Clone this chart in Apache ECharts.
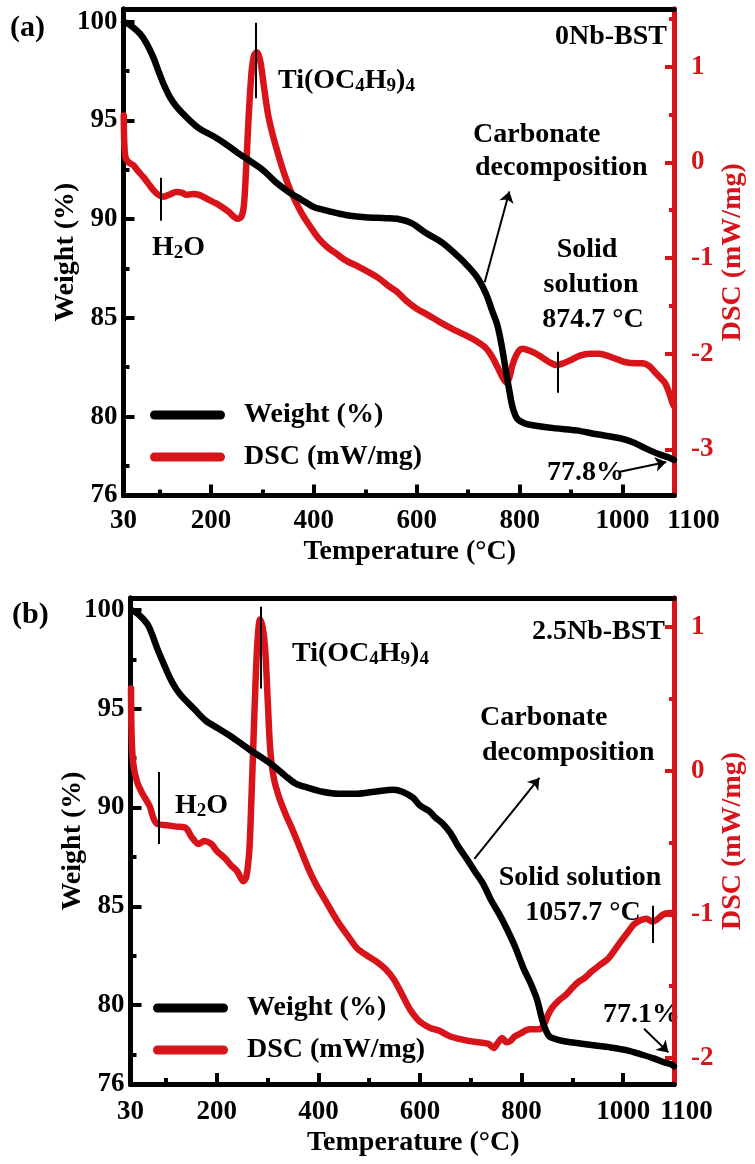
<!DOCTYPE html>
<html><head><meta charset="utf-8">
<script src="https://cdn.jsdelivr.net/npm/echarts@6/dist/echarts.min.js"></script>
<style>html,body{margin:0;padding:0;background:#fff}#c{width:755px;height:1164px}</style>
</head><body><div id="c"></div>
<script>
// ---------- data ----------
const xLabels = [30, 200, 400, 600, 800, 1000, 1100];
const xMajor = [200, 400, 600, 800, 1000];
const xMinor = [100, 300, 500, 700, 900];
const wLabels = [76, 80, 85, 90, 95, 100];
const wMajor = [80, 85, 90, 95, 100];
const wMinor = [77.5, 82.5, 87.5, 92.5, 97.5];
const dscLabelsA = [-3, -2, -1, 0, 1];
const dscMinorA = [-2.5, -1.5, -0.5, 0.5, 1.5];
const dscLabelsB = [-2, -1, 0, 1];
const dscMinorB = [-1.5, -0.5, 0.5];

const seriesNames = ['Weight (%)', 'DSC (mW/mg)'];

// Panel (a) 0Nb-BST : [temperature °C, weight %]
const weightA = [[31,100.0],[45,99.8],[62,99.4],[75,98.9],[88,98.2],[98,97.5],[107,96.9],[120,96.2],[133,95.7],[155,95.1],[177,94.6],[205,94.2],[229,93.8],[250,93.4],[273,93.0],[290,92.7],[305,92.4],[325,91.9],[350,91.4],[375,91.0],[401,90.6],[430,90.4],[464,90.2],[500,90.1],[540,90.05],[566,90.0],[590,89.8],[618,89.3],[650,88.8],[681,88.1],[700,87.6],[719,87.0],[735,86.2],[746,85.4],[757,84.6],[765,83.6],[774,82.2],[780,81.3],[786,80.5],[795,79.9],[810,79.65],[828,79.55],[870,79.4],[910,79.3],[950,79.1],[995,78.9],[1020,78.7],[1044,78.4],[1070,78.1],[1092,77.9],[1100,77.8]];
// Panel (a) : [temperature °C, DSC mW/mg]
const dscA = [[30.5,0.49],[31.5,0.2],[34,0.05],[40,0.0],[49,-0.03],[58,-0.09],[68,-0.15],[78,-0.22],[88,-0.29],[98,-0.34],[107,-0.36],[118,-0.34],[133,-0.31],[145,-0.32],[152,-0.34],[165,-0.33],[177,-0.34],[195,-0.39],[210,-0.43],[222,-0.47],[235,-0.52],[245,-0.57],[252,-0.59],[259,-0.57],[264,-0.45],[268,-0.1],[273,0.45],[279,0.95],[284,1.12],[289,1.15],[294,1.1],[298,0.99],[304,0.75],[311,0.5],[318,0.33],[326,0.17],[340,-0.08],[355,-0.3],[375,-0.52],[394,-0.68],[410,-0.8],[427,-0.89],[445,-0.96],[460,-1.02],[490,-1.1],[523,-1.2],[547,-1.3],[561,-1.35],[580,-1.45],[600,-1.53],[623,-1.6],[645,-1.67],[669,-1.74],[688,-1.79],[710,-1.85],[732,-1.93],[745,-2.02],[757,-2.14],[766,-2.24],[774,-2.3],[780,-2.25],[786,-2.12],[795,-2.0],[805,-1.95],[815,-1.96],[828,-1.99],[841,-2.03],[858,-2.09],[872,-2.12],[885,-2.1],[898,-2.07],[917,-2.02],[937,-2.0],[955,-2.0],[975,-2.03],[990,-2.06],[1006,-2.09],[1025,-2.1],[1039,-2.1],[1052,-2.13],[1064,-2.2],[1075,-2.26],[1083,-2.31],[1090,-2.4],[1096,-2.5],[1100,-2.55]];

// Panel (b) 2.5Nb-BST : [temperature °C, weight %]
const weightB = [[32,100.0],[45,99.8],[63,99.3],[72,98.8],[82,98.1],[95,97.3],[107,96.6],[120,96.0],[132,95.6],[155,95.0],[178,94.4],[203,94.0],[228,93.6],[250,93.2],[266,92.9],[290,92.5],[312,92.1],[335,91.6],[356,91.2],[380,91.0],[408,90.8],[440,90.7],[477,90.7],[510,90.8],[548,90.9],[565,90.8],[586,90.5],[600,90.1],[619,89.8],[630,89.5],[644,89.2],[660,88.7],[676,88.0],[692,87.4],[707,86.8],[725,86.1],[740,85.3],[756,84.6],[772,83.8],[788,82.9],[803,81.9],[816,81.2],[830,80.3],[841,79.2],[848,78.7],[855,78.4],[870,78.25],[887,78.15],[915,78.05],[945,77.95],[975,77.85],[1008,77.7],[1035,77.5],[1060,77.3],[1080,77.1],[1094,77.0],[1100,76.9]];
// Panel (b) : [temperature °C, DSC mW/mg]
const dscB = [[31,0.57],[32,0.27],[35,0.06],[43,-0.08],[55,-0.17],[68,-0.25],[75,-0.33],[82,-0.37],[101,-0.38],[120,-0.39],[139,-0.4],[150,-0.46],[164,-0.51],[175,-0.49],[189,-0.51],[200,-0.56],[216,-0.61],[228,-0.66],[240,-0.7],[252,-0.77],[258,-0.74],[264,-0.55],[268,-0.2],[272,0.2],[276,0.6],[280,0.9],[285,1.05],[290,1.0],[295,0.85],[300,0.5],[305,0.15],[312,-0.05],[322,-0.18],[335,-0.3],[350,-0.42],[365,-0.55],[380,-0.68],[395,-0.79],[413,-0.9],[438,-1.05],[458,-1.15],[477,-1.24],[497,-1.29],[515,-1.33],[532,-1.38],[548,-1.45],[565,-1.56],[580,-1.66],[595,-1.73],[605,-1.76],[620,-1.79],[638,-1.81],[660,-1.85],[695,-1.88],[734,-1.9],[745,-1.93],[752,-1.9],[762,-1.86],[770,-1.89],[778,-1.88],[786,-1.85],[797,-1.83],[816,-1.8],[835,-1.8],[845,-1.76],[852,-1.7],[860,-1.65],[873,-1.6],[887,-1.56],[900,-1.51],[912,-1.47],[925,-1.44],[937,-1.4],[955,-1.35],[970,-1.31],[983,-1.25],[995,-1.19],[1008,-1.13],[1021,-1.07],[1035,-1.04],[1046,-1.03],[1057,-1.05],[1065,-1.04],[1079,-1.0],[1090,-0.99],[1100,-0.99]];

// annotation marks (data coordinates)
const peakTicksA = [[[103,-0.16],[103,-0.61]], [[288,1.46],[288,0.67]], [[874.7,-1.98],[874.7,-2.41]]];
const arrowsA = [[[732,86.8],[780,91.4]], [[995,77.2],[1085,77.7]]];
const peakTicksB = [[[86,-0.01],[86,-0.51]], [[287,1.14],[287,0.57]], [[1057.7,-0.94],[1057.7,-1.2]]];
const arrowsB = [[[707,87.4],[835,91.5]], [[1041,78.8],[1089,77.6]]];

// ---------- styling ----------
const FONT = '"Liberation Serif","Times New Roman",serif';
const RED = '#d8141b';
const BLACK = '#000';
const TICK_FS = 27;
const TEXT_FS = 28;

function baseLabel(color, size) {
  return { fontFamily: FONT, fontWeight: 'bold', fontSize: size, color: color };
}

function xAxesFor(gi, margin, shift, nameGap) {
  const common = { type: 'value', gridIndex: gi, min: 30, max: 1100, splitLine: { show: false },
    axisLine: { onZero: false, lineStyle: { color: BLACK, width: 5 } } };
  return [
    Object.assign({}, common, {
      position: 'bottom',
      axisTick: { inside: true, length: 11, customValues: xMajor, lineStyle: { color: BLACK, width: 4 } },
      axisLabel: Object.assign(baseLabel(BLACK, TICK_FS), {
        margin: margin, customValues: xLabels, hideOverlap: false,
        formatter: v => v === 1100 ? '{r|1100}' : String(v),
        rich: { r: Object.assign(baseLabel(BLACK, TICK_FS), { padding: [0, 0, 0, shift] }) }
      }),
      name: 'Temperature (°C)', nameLocation: 'middle', nameGap: nameGap, nameMoveOverlap: false,
      nameTextStyle: Object.assign(baseLabel(BLACK, TEXT_FS), { padding: [0, 0, 0, 22] })
    }),
    Object.assign({}, common, {
      position: 'bottom', axisLabel: { show: false },
      axisTick: { inside: true, length: 6, customValues: xMinor, lineStyle: { color: BLACK, width: 4 } }
    }),
    Object.assign({}, common, {
      position: 'top', axisLabel: { show: false }, axisTick: { show: false }
    })
  ];
}

function yAxesFor(gi, wMax, dMin, dMax, dLabels, dMinor) {
  const wCommon = { type: 'value', gridIndex: gi, min: 76, max: wMax, position: 'left', splitLine: { show: false },
    axisLine: { onZero: false, lineStyle: { color: BLACK, width: 5 } } };
  const dCommon = { type: 'value', gridIndex: gi, min: dMin, max: dMax, position: 'right', splitLine: { show: false },
    axisLine: { onZero: false, lineStyle: { color: RED, width: 5 } } };
  return [
    Object.assign({}, wCommon, {
      axisTick: { inside: true, length: 11, customValues: wMajor, lineStyle: { color: BLACK, width: 4 } },
      axisLabel: Object.assign(baseLabel(BLACK, TICK_FS), { margin: 6, customValues: wLabels, formatter: v => String(v) }),
      name: 'Weight (%)', nameLocation: 'middle', nameGap: 44, nameRotate: 90, nameMoveOverlap: false,
      nameTextStyle: baseLabel(BLACK, TEXT_FS)
    }),
    Object.assign({}, wCommon, {
      axisLabel: { show: false },
      axisTick: { inside: true, length: 6, customValues: wMinor, lineStyle: { color: BLACK, width: 4 } }
    }),
    Object.assign({}, dCommon, {
      axisTick: { inside: true, length: 9, customValues: dLabels, lineStyle: { color: RED, width: 4 } },
      axisLabel: Object.assign(baseLabel(RED, TICK_FS), { margin: 17, customValues: dLabels, formatter: v => String(v) }),
      name: 'DSC (mW/mg)', nameLocation: 'middle', nameGap: 45, nameRotate: 90, nameMoveOverlap: false,
      nameTextStyle: baseLabel(RED, TEXT_FS)
    }),
    Object.assign({}, dCommon, {
      axisLabel: { show: false },
      axisTick: { inside: true, length: 5, customValues: dMinor, lineStyle: { color: RED, width: 4 } }
    })
  ];
}

function segs(list) {
  return list.map(s => [{ coord: s[0] }, { coord: s[1] }]);
}

function seriesFor(xi, yi, weight, dsc, ticks, arrows) {
  return [
    {
      name: seriesNames[1], type: 'line', xAxisIndex: xi, yAxisIndex: yi + 2, data: dsc,
      color: RED, showSymbol: false, smooth: 0.3, lineStyle: { width: 6.5, color: RED, cap: 'round', join: 'round' },
      z: 3,
      markLine: { silent: true, symbol: ['none', 'none'], label: { show: false }, animation: false,
        lineStyle: { color: BLACK, width: 2, type: 'solid' }, emphasis: { disabled: true }, data: segs(ticks) }
    },
    {
      name: seriesNames[0], type: 'line', xAxisIndex: xi, yAxisIndex: yi, data: weight,
      color: BLACK, showSymbol: false, smooth: 0.3, lineStyle: { width: 6.5, color: BLACK, cap: 'round', join: 'round' },
      z: 4,
      markLine: { silent: true, symbol: ['none', 'arrow'], symbolSize: 11, label: { show: false }, animation: false,
        lineStyle: { color: BLACK, width: 2, type: 'solid' }, emphasis: { disabled: true }, data: segs(arrows) }
    }
  ];
}

const legendIcon = 'path://M4.5,0 L70.5,0 A4.5,4.5 0 0 1 70.5,9 L4.5,9 A4.5,4.5 0 0 1 4.5,0 Z';
function legendFor(left, top) {
  return {
    orient: 'vertical', left: left, top: top, itemWidth: 75, itemHeight: 9, itemGap: 12,
    icon: legendIcon, selectedMode: false, data: seriesNames,
    textStyle: Object.assign(baseLabel(BLACK, TEXT_FS), { lineHeight: 30, padding: [0, 0, 0, 14] })
  };
}

const RICH = {
  m: { fontFamily: FONT, fontWeight: 'bold', fontSize: TEXT_FS, lineHeight: 30, fill: BLACK },
  s: { fontFamily: FONT, fontWeight: 'bold', fontSize: 19, lineHeight: 14, verticalAlign: 'bottom', fill: BLACK }
};
function txt(text, x, y, align, size) {
  return { type: 'text', x: x, y: y, silent: true,
    style: { text: text, fill: BLACK, fontFamily: FONT, fontWeight: 'bold', fontSize: size || TEXT_FS,
      align: align || 'left', verticalAlign: 'middle' } };
}
function richTxt(text, x, y) {
  return { type: 'text', x: x, y: y, silent: true,
    style: { text: text, rich: RICH, fill: BLACK, fontFamily: FONT, fontWeight: 'bold', fontSize: TEXT_FS,
      align: 'left', verticalAlign: 'middle' } };
}

const graphics = [
  txt('(a)', 10, 28, 'left', 30),
  txt('0Nb-BST', 667, 37, 'right'),
  richTxt('{m|Ti(OC}{s|4}{m|H}{s|9}{m|)}{s|4}', 278, 81),
  richTxt('{m|H}{s|2}{m|O}', 152, 248),
  txt('Carbonate', 473, 135),
  txt('decomposition', 475, 168),
  txt('Solid', 587, 250, 'center'),
  txt('solution', 591, 285, 'center'),
  txt('874.7 °C', 593, 320, 'center'),
  txt('77.8%', 547, 473),
  txt('(b)', 12, 615, 'left', 30),
  txt('2.5Nb-BST', 665, 632, 'right'),
  richTxt('{m|Ti(OC}{s|4}{m|H}{s|9}{m|)}{s|4}', 292, 654),
  richTxt('{m|H}{s|2}{m|O}', 175, 806),
  txt('Carbonate', 480, 718),
  txt('decomposition', 482, 753),
  txt('Solid solution', 580, 878, 'center'),
  txt('1057.7 °C', 583, 913, 'center'),
  txt('77.1%', 603, 1015)
];

const option = {
  backgroundColor: '#fff',
  animation: false,
  grid: [
    { left: 123.5, top: 9, width: 557, height: 486.5 },
    { left: 130.5, top: 598, width: 557, height: 486 }
  ],
  xAxis: [].concat(xAxesFor(0, 12, 39, 42), xAxesFor(1, 15, 25, 45)),
  yAxis: [].concat(
    yAxesFor(0, 100.65, -3.483, 1.603, dscLabelsA, dscMinorA),
    yAxesFor(1, 100.61, -2.18, 1.2, dscLabelsB, dscMinorB)
  ),
  legend: [legendFor(145, 395), legendFor(148, 988)],
  series: [].concat(
    seriesFor(0, 0, weightA, dscA, peakTicksA, arrowsA),
    seriesFor(3, 4, weightB, dscB, peakTicksB, arrowsB)
  ),
  graphic: graphics
};

const chart = echarts.init(document.getElementById('c'), null, { renderer: 'canvas' });
chart.setOption(option);
</script></body></html>
